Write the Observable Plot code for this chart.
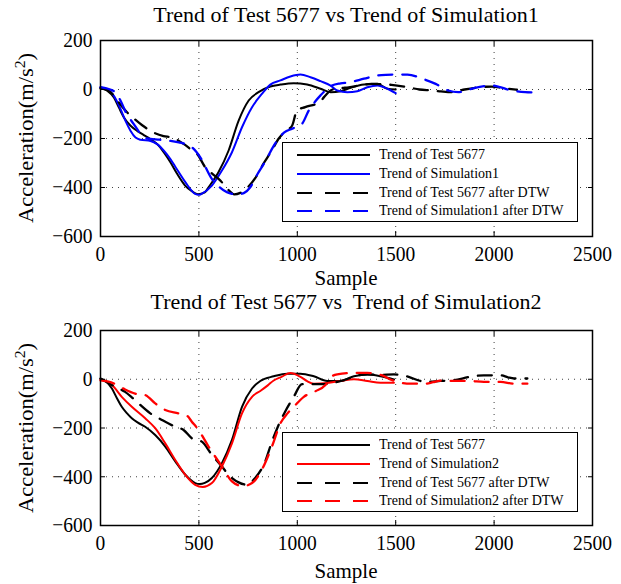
<!DOCTYPE html>
<html>
<head>
<meta charset="utf-8">
<script src="https://cdn.jsdelivr.net/npm/d3@7"></script>
<script src="https://cdn.jsdelivr.net/npm/@observablehq/plot@0.6"></script>
<style>
  body { margin: 0; background: #fff; }
  #fig { position: relative; width: 621px; height: 584px; overflow: hidden;
         font-family: "Liberation Serif", "Times New Roman", serif; color: #000; }
  .panel { position: absolute; left: 0; }
  .panel svg text { font-family: "Liberation Serif", "Times New Roman", serif; }
  .title { position: absolute; left: 100px; width: 492px; text-align: center; white-space: pre;
           font-size: 22px; line-height: 1; transform: translateY(-50%); }
  .xlabel { position: absolute; left: 100px; width: 492px; text-align: center;
            font-size: 21px; line-height: 1; transform: translateY(-50%); }
  .ylabel { position: absolute; font-size: 21px; line-height: 1; white-space: nowrap;
            transform: translate(-50%, -50%) rotate(-90deg) scaleX(1.07); }
  .ylabel sup { font-size: 0.7em; line-height: 0; }
  .legend { position: absolute; left: 282px; width: 296px; height: 80px; background: #fff;
            border: 1.5px solid #000; box-sizing: border-box; }
  .legend .row { position: absolute; left: 0; height: 18px; display: flex; align-items: center; }
  .legend .row span { font-size: 14px; white-space: nowrap; margin-left: 8px;
                      display: inline-block; transform: scaleY(1.1); }
</style>
</head>
<body>
<div id="fig"></div>
<script>
// ---- axes ----
const xTicks = [0, 500, 1000, 1500, 2000, 2500];
const yTicks = [-600, -400, -200, 0, 200];
const xDomain = [0, 2500];
const yDomain = [-600, 200];

// ---- texts ----
const titles = ["Trend of Test 5677 vs Trend of Simulation1", "Trend of Test 5677 vs  Trend of Simulation2"];
const xLabel = "Sample";
const yLabelMain = "Acceleration(m/s";
const yLabelSup = "2";
const yLabelEnd = ")";
const legend1 = ["Trend of Test 5677", "Trend of Simulation1", "Trend of Test 5677 after DTW", "Trend of Simulation1 after DTW"];
const legend2 = ["Trend of Test 5677", "Trend of Simulation2", "Trend of Test 5677 after DTW", "Trend of Simulation2 after DTW"];

// ---- panel 1 data ----
const test1X = [0, 34, 68, 93, 119, 153, 186, 220, 254, 288, 322, 356, 390, 430, 464, 495, 530, 549, 600, 651, 702, 753, 803, 863, 914, 982, 1050, 1118, 1169, 1220, 1271, 1339, 1407, 1458, 1500];
const test1Y = [7, -5, -33, -73, -114, -148, -169, -186, -203, -223, -257, -298, -345, -392, -415, -428, -420, -399, -337, -249, -127, -45, -11, 12, 20, 26, 20, 3, -11, -7, 7, 20, 23, 3, 0];

const sim1X = [0, 34, 68, 102, 127, 153, 178, 203, 254, 288, 322, 356, 380, 431, 481, 500, 515, 566, 617, 668, 719, 770, 820, 863, 914, 965, 1016, 1067, 1118, 1169, 1203, 1254, 1305, 1356, 1407, 1458, 1500];
const sim1Y = [8, 1, -26, -80, -128, -169, -196, -205, -210, -223, -250, -285, -315, -378, -426, -430, -425, -392, -331, -256, -154, -72, -18, 20, 37, 53, 61, 50, 34, 16, -4, -11, -7, 9, 16, 3, -15];

const test1DtwX = [0, 34, 68, 100, 136, 175, 212, 271, 320, 364, 424, 460, 492, 532, 570, 608, 650, 680, 710, 747, 786, 830, 866, 906, 940, 974, 998, 1040, 1108, 1176, 1220, 1261, 1339, 1376, 1420, 1478, 1563, 1620, 1682, 1730, 1784, 1850, 1903, 1988, 2050, 2116];
const test1DtwY = [5, -2, -25, -60, -94, -122, -146, -176, -190, -196, -223, -245, -264, -317, -345, -371, -410, -428, -422, -400, -362, -300, -255, -200, -170, -147, -86, -72, -54, -1, 5, 9, 20, 23, 22, 19, 9, 0, -4, -8, -11, 0, 7, 12, 5, -1];

const sim1DtwX = [0, 34, 76, 102, 130, 169, 203, 237, 300, 356, 398, 430, 458, 508, 566, 600, 642, 696, 730, 760, 798, 840, 880, 934, 974, 1000, 1024, 1058, 1090, 1118, 1155, 1176, 1220, 1261, 1339, 1407, 1450, 1492, 1560, 1635, 1703, 1767, 1818, 1860, 1903, 1988, 2030, 2073, 2158, 2200];
const sim1DtwY = [10, 4, -12, -46, -95, -141, -180, -200, -205, -210, -216, -222, -232, -278, -365, -395, -419, -428, -422, -400, -345, -290, -230, -175, -160, -150, -140, -86, -50, -24, 5, 16, 25, 29, 44, 57, 60, 61, 61, 44, 23, -4, -11, -3, 7, 16, 10, -1, -11, -12];

// ---- panel 2 data ----
const test2X = [0, 30, 58, 85, 108, 135, 159, 190, 227, 278, 329, 380, 431, 481, 505, 530, 566, 617, 668, 719, 770, 812, 880, 948, 1016, 1084, 1152, 1220, 1288, 1356, 1423, 1491];
const test2Y = [2, -10, -38, -80, -113, -140, -160, -178, -195, -229, -276, -337, -392, -426, -430, -425, -405, -344, -249, -113, -38, -7, 12, 23, 23, 12, -7, -7, 12, 19, 12, -1];

const sim2X = [0, 30, 58, 108, 159, 227, 278, 329, 380, 431, 481, 520, 566, 617, 668, 719, 770, 812, 850, 880, 920, 965, 1016, 1050, 1084, 1152, 1220, 1288, 1356, 1423, 1491];
const sim2Y = [-2, -10, -24, -72, -113, -160, -201, -263, -331, -392, -433, -442, -426, -358, -263, -140, -72, -48, -25, -5, 10, 26, 10, -8, -18, -15, -7, 0, -7, -14, -14];

const test2DtwX = [0, 40, 75, 125, 160, 193, 253, 312, 380, 422, 464, 515, 566, 617, 651, 702, 744, 786, 837, 871, 898, 940, 982, 1024, 1080, 1134, 1203, 1250, 1288, 1356, 1420, 1491, 1530, 1576, 1610, 1652, 1728, 1795, 1872, 1948, 2033, 2070, 2101, 2169];
const test2DtwY = [3, -15, -31, -52, -75, -99, -140, -167, -195, -208, -242, -256, -310, -358, -392, -423, -433, -405, -337, -256, -201, -130, -72, -20, -20, -20, -11, 0, 12, 20, 18, 20, 17, 7, -3, -11, -7, -4, 9, 16, 16, 8, 3, 3];

const sim2DtwX = [0, 40, 75, 125, 176, 227, 278, 329, 397, 440, 464, 498, 549, 617, 668, 700, 719, 770, 820, 871, 915, 950, 982, 1033, 1090, 1143, 1172, 1203, 1288, 1356, 1432, 1470, 1508, 1576, 1652, 1690, 1728, 1804, 1872, 1948, 2033, 2101, 2169];
const sim2DtwY = [-5, -10, -20, -42, -59, -65, -99, -126, -140, -150, -174, -208, -276, -358, -419, -435, -439, -426, -371, -276, -180, -140, -113, -72, -50, -24, 10, 20, 26, 26, 16, 0, -11, -18, -18, -12, -6, -7, -7, -11, -11, -18, -18];

const seriesColors1 = ["#000000", "#0000ff", "#000000", "#0000ff"];
const seriesColors2 = ["#000000", "#ff0000", "#000000", "#ff0000"];
const seriesDashed = [false, false, true, true];

function rows(xs, ys) { return xs.map((x, i) => ({x, y: ys[i]})); }

const fmt = d3.format("d");
const dashPattern = "14,10";
const serif = "Liberation Serif";

function makePanel(series, colors, {height, marginTop, marginBottom}) {
  const lineMarks = series.map((s, i) => Plot.line(rows(s[0], s[1]), {
    x: "x", y: "y", stroke: colors[i],
    strokeWidth: seriesDashed[i] ? 2.3 : 2,
    strokeDasharray: seriesDashed[i] ? dashPattern : null,
    curve: "monotone-x"
  }));
  const svg = Plot.plot({
    width: 621, height,
    marginLeft: 100, marginRight: 29, marginTop, marginBottom,
    style: `font-family: '${serif}', serif; font-size: 19.5px; background: transparent; color: #000;`,
    x: {domain: xDomain},
    y: {domain: yDomain},
    marks: [
      Plot.gridX(xTicks, {stroke: "#000", strokeOpacity: 0.75, strokeWidth: 1, strokeDasharray: "1,5"}),
      Plot.gridY(yTicks, {stroke: "#000", strokeOpacity: 0.75, strokeWidth: 1, strokeDasharray: "1,5"}),
      ...lineMarks,
      Plot.axisX(xTicks, {anchor: "bottom", tickSize: -5, tickPadding: 14, tickFormat: fmt, label: null, fontFamily: serif, fontSize: 19.5}),
      Plot.axisX(xTicks, {anchor: "top", tickSize: -5, tickFormat: () => "", label: null}),
      Plot.axisY(yTicks, {anchor: "left", tickSize: -5, tickPadding: 13, tickFormat: fmt, label: null, fontFamily: serif, fontSize: 19.5}),
      Plot.axisY(yTicks, {anchor: "right", tickSize: -5, tickFormat: () => "", label: null}),
      Plot.frame({stroke: "#000", strokeWidth: 1.5})
    ]
  });
  // slightly taller glyphs, as in the reference
  svg.querySelectorAll('[aria-label$="tick label"] text').forEach(t => {
    const tr = t.getAttribute("transform");
    if (tr) t.setAttribute("transform", tr + " scale(1,1.1)");
  });
  return svg;
}

const fig = d3.select("#fig");

function addPanel(top, opts, series, colors, title, legendTexts, legendTop, titleY, xLabelY, yLabelY) {
  const svg = makePanel(series, colors, opts);
  const holder = fig.append("div").attr("class", "panel").style("top", top + "px");
  holder.node().appendChild(svg);

  fig.append("div").attr("class", "title").style("top", titleY + "px").text(title);
  fig.append("div").attr("class", "xlabel").style("top", xLabelY + "px").text(xLabel);
  const yl = fig.append("div").attr("class", "ylabel").style("left", "26px").style("top", yLabelY + "px");
  yl.append("span").text(yLabelMain);
  yl.append("sup").text(yLabelSup);
  yl.append("span").text(yLabelEnd);

  const lg = fig.append("div").attr("class", "legend").style("top", legendTop + "px");
  const rowTops = [3, 22, 41, 59];
  legendTexts.forEach((t, i) => {
    const r = lg.append("div").attr("class", "row").style("top", rowTops[i] + "px").style("left", "14px");
    const s = r.append("svg").attr("width", 74).attr("height", 18);
    s.append("line").attr("x1", 0).attr("x2", 73).attr("y1", 9).attr("y2", 9)
      .attr("stroke", colors[i]).attr("stroke-width", 2)
      .attr("stroke-dasharray", seriesDashed[i] ? "15,13" : null);
    r.append("span").text(t);
  });
}

addPanel(0, {height: 292, marginTop: 40, marginBottom: 56},
  [[test1X, test1Y], [sim1X, sim1Y], [test1DtwX, test1DtwY], [sim1DtwX, sim1DtwY]],
  seriesColors1, titles[0], legend1, 142, 15, 278, 138);

addPanel(290, {height: 294, marginTop: 40, marginBottom: 59},
  [[test2X, test2Y], [sim2X, sim2Y], [test2DtwX, test2DtwY], [sim2DtwX, sim2DtwY]],
  seriesColors2, titles[1], legend2, 432, 302, 571, 428);
</script>
</body>
</html>
